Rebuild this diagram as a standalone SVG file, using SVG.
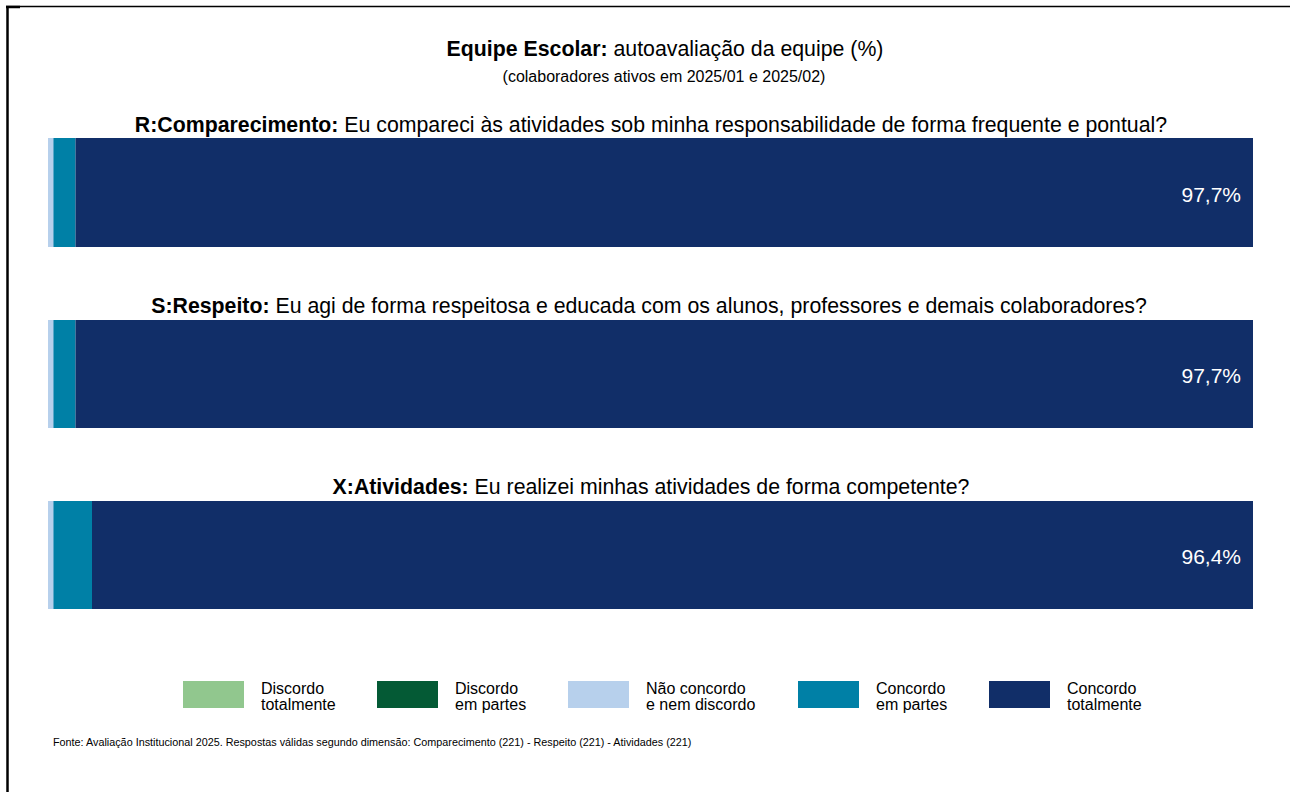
<svg xmlns="http://www.w3.org/2000/svg" width="1290" height="792" viewBox="0 0 1290 792">
<style>
text{font-family:"Liberation Sans",Arial,sans-serif;fill:#000}
.q{font-size:21.3px}
.pct{font-size:21px;fill:#fff}
.lg{font-size:16px}
.b{font-weight:bold}
</style>
<rect width="1290" height="792" fill="#fff"/>
<line x1="6" y1="6.5" x2="1290" y2="6.5" stroke="#000" stroke-width="1.5"/>
<line x1="7.5" y1="6" x2="7.5" y2="792" stroke="#000" stroke-width="2.5"/>
<line x1="6" y1="7" x2="20" y2="7" stroke="#000" stroke-width="2.5"/>
<text x="665" y="56" text-anchor="middle" font-size="21.3"><tspan class="b">Equipe Escolar:</tspan> autoavaliação da equipe (%)</text>
<text x="664" y="82" text-anchor="middle" font-size="16">(colaboradores ativos em 2025/01 e 2025/02)</text>
<g id="bar-r">
<text class="q" x="651" y="132" text-anchor="middle"><tspan class="b">R:Comparecimento:</tspan> Eu compareci às atividades sob minha responsabilidade de forma frequente e pontual?</text>
<rect x="48" y="138" width="6" height="109" fill="#b7d0ec"/>
<rect x="53.5" y="138" width="22" height="109" fill="#0080a6"/>
<rect x="75.5" y="138" width="1177.5" height="109" fill="#112e68"/>
<text class="pct" x="1241" y="202" text-anchor="end">97,7%</text>
</g>
<g id="bar-s">
<text class="q" x="649" y="313" text-anchor="middle"><tspan class="b">S:Respeito:</tspan> Eu agi de forma respeitosa e educada com os alunos, professores e demais colaboradores?</text>
<rect x="48" y="320" width="6" height="108" fill="#b7d0ec"/>
<rect x="53.5" y="320" width="22" height="108" fill="#0080a6"/>
<rect x="75.5" y="320" width="1177.5" height="108" fill="#112e68"/>
<text class="pct" x="1241" y="383" text-anchor="end">97,7%</text>
</g>
<g id="bar-x">
<text class="q" x="651" y="494" text-anchor="middle"><tspan class="b">X:Atividades:</tspan> Eu realizei minhas atividades de forma competente?</text>
<rect x="48" y="501" width="6" height="108" fill="#b7d0ec"/>
<rect x="53.5" y="501" width="38.5" height="108" fill="#0080a6"/>
<rect x="92" y="501" width="1161" height="108" fill="#112e68"/>
<text class="pct" x="1241" y="564" text-anchor="end">96,4%</text>
</g>
<g id="legend">
<rect x="183" y="681" width="61" height="27" fill="#91c78e"/>
<text class="lg" x="261" y="694">Discordo</text><text class="lg" x="261" y="710">totalmente</text>
<rect x="377" y="681" width="61" height="27" fill="#045a35"/>
<text class="lg" x="455" y="694">Discordo</text><text class="lg" x="455" y="710">em partes</text>
<rect x="568" y="681" width="61" height="27" fill="#b7d0ec"/>
<text class="lg" x="646" y="694">Não concordo</text><text class="lg" x="646" y="710">e nem discordo</text>
<rect x="798" y="681" width="61" height="27" fill="#0080a6"/>
<text class="lg" x="876" y="694">Concordo</text><text class="lg" x="876" y="710">em partes</text>
<rect x="989" y="681" width="61" height="27" fill="#112e68"/>
<text class="lg" x="1067" y="694">Concordo</text><text class="lg" x="1067" y="710">totalmente</text>
</g>
<text x="53" y="746" font-size="10.8">Fonte: Avaliação Institucional 2025. Respostas válidas segundo dimensão: Comparecimento (221) - Respeito (221) - Atividades (221)</text>
</svg>
